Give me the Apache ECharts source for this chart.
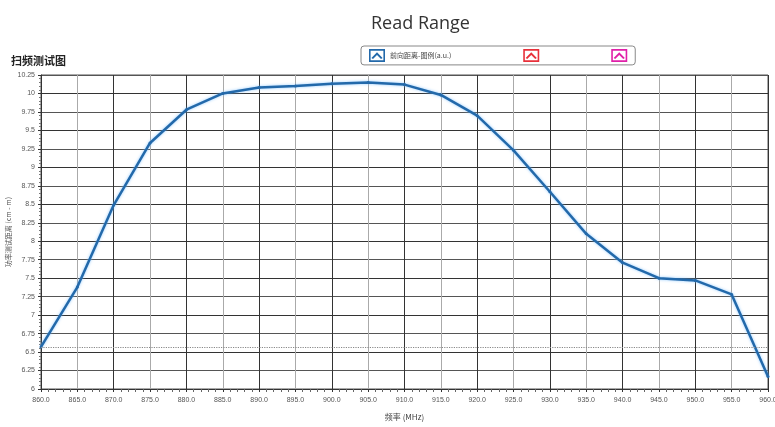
<!DOCTYPE html>
<html><head><meta charset="utf-8">
<script src="https://cdn.jsdelivr.net/npm/echarts@6/dist/echarts.min.js"></script>
<style>html,body{margin:0;padding:0;background:#fff}#c{width:775px;height:427px}</style>
</head><body><div id="c"></div>
<script>
const freqs = [860,865,870,875,880,885,890,895,900,905,910,915,920,925,930,935,940,945,950,955,960];
const rangeValues = [6.57,7.38,8.49,9.33,9.78,10.0,10.08,10.1,10.13,10.15,10.12,9.98,9.70,9.23,8.67,8.10,7.71,7.50,7.47,7.28,6.17];
const thresholdValue = 6.56;
const seriesNames = ['前向距离-图例(a.u.)','s2','s3'];
const seriesColors = ['#2369aa','#e8303a','#e020a8'];
const iconPath = 'path://M0,0 L20,0 L20,16 L0,16 Z M2,2 L2,14 L18,14 L18,2 Z M3,11 L10,4 L17,11 L15,12.5 L10,7.5 L5,12.5 Z';

const chart = echarts.init(document.getElementById('c'));
chart.setOption({
  backgroundColor:'#fff',
  animation:false,
  title:[
    {text:'Read Range',left:366,top:10,textStyle:{fontFamily:'Open Sans',fontWeight:'normal',fontSize:18,color:'#333'}},
    {text:'扫频测试图',left:6,top:50,textStyle:{fontFamily:'Noto Sans CJK SC',fontWeight:'bold',fontSize:11,color:'#222'}}
  ],
  legend:{
    left:361, top:46, width:272, height:14,
    padding:[3,8,3,8],
    borderColor:'#888', borderWidth:1, borderRadius:3,
    itemWidth:16, itemHeight:13, itemGap:72,
    icon:iconPath,
    data:seriesNames,
    formatter:function(n){return n===seriesNames[0]?n:'';},
    textStyle:{fontSize:7,color:'#444',fontFamily:'Noto Sans CJK SC'},
    selectedMode:false
  },
  grid:{left:41,right:7,top:75,bottom:38,show:true,borderColor:'#555',borderWidth:1,outerBoundsMode:'none',containLabel:false},
  xAxis:{
    type:'value', min:860, max:960, interval:5,
    name:'频率 (MHz)', nameLocation:'middle', nameGap:24,
    nameTextStyle:{fontSize:8,color:'#444',fontFamily:'Noto Sans CJK SC'},
    axisLine:{lineStyle:{color:'#333'}},
    axisTick:{show:true,length:3,lineStyle:{color:'#333'}},
    minorTick:{show:true,splitNumber:5,length:3,lineStyle:{color:'#666'}},
    axisLabel:{fontSize:7,color:'#555',margin:8,formatter:function(v){return v.toFixed(1);}},
    splitLine:{show:true,lineStyle:{color:['#333','#aaa'],width:1}}
  },
  yAxis:{
    type:'value', min:6, max:10.25, interval:0.25,
    name:'功率测试距离 (cm - m)', nameLocation:'middle', nameGap:29, nameRotate:90, nameMoveOverlap:false,
    nameTextStyle:{fontSize:7,color:'#555',fontFamily:'Noto Sans CJK SC'},
    axisLine:{show:true,lineStyle:{color:'#333'}},
    axisTick:{show:true,length:3,lineStyle:{color:'#333'}},
    minorTick:{show:true,splitNumber:5,length:2,lineStyle:{color:'#777'}},
    axisLabel:{fontSize:7,color:'#555',margin:6},
    splitLine:{show:true,lineStyle:{color:['#333','#555'],width:1}}
  },
  series:[
    {name:seriesNames[0],type:'line',color:seriesColors[0],
     data:freqs.map((f,i)=>[f,rangeValues[i]]),
     symbol:'circle',symbolSize:3,showSymbol:true,
     lineStyle:{width:2.5,color:seriesColors[0],shadowColor:'rgba(120,190,255,0.8)',shadowBlur:3},
     itemStyle:{color:seriesColors[0]},
     markLine:{silent:true,symbol:'none',label:{show:false},
       lineStyle:{type:'dotted',color:'#888',width:1.2},
       data:[{yAxis:thresholdValue}]}},
    {name:seriesNames[1],type:'line',color:seriesColors[1],data:[]},
    {name:seriesNames[2],type:'line',color:seriesColors[2],data:[]}
  ]
});
</script></body></html>
